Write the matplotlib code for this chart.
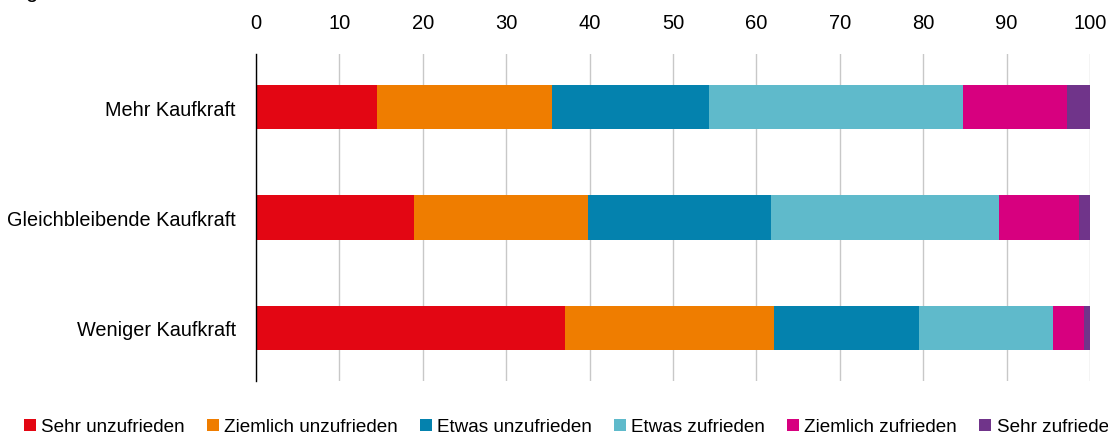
import matplotlib
matplotlib.use("Agg")
import matplotlib.pyplot as plt
import numpy as np

plt.rcParams['font.family'] = ['Liberation Sans', 'DejaVu Sans']

categories = ["Mehr Kaufkraft", "Gleichbleibende Kaufkraft", "Weniger Kaufkraft"]
series_names = ["Sehr unzufrieden", "Ziemlich unzufrieden", "Etwas unzufrieden",
                "Etwas zufrieden", "Ziemlich zufrieden", "Sehr zufrieden"]
# shares in percent, per category
sehr_unzufrieden = [14.5, 18.9, 37.1]
ziemlich_unzufrieden = [21.0, 20.9, 25.0]
etwas_unzufrieden = [18.8, 21.9, 17.4]
etwas_zufrieden = [30.5, 27.4, 16.1]
ziemlich_zufrieden = [12.5, 9.6, 3.7]
sehr_zufrieden = [2.7, 1.3, 0.7]
colors = ["#E30613", "#EF7D00", "#0482AE", "#5FBACB", "#D7007F", "#70348A"]

series = [sehr_unzufrieden, ziemlich_unzufrieden, etwas_unzufrieden,
          etwas_zufrieden, ziemlich_zufrieden, sehr_zufrieden]

fig = plt.figure(figsize=(11.08, 4.35), dpi=100)
ax = fig.add_axes([256/1108, 1-382/435, 834/1108, 327/435])

y = np.arange(len(categories))
left = np.zeros(len(categories))
for name, vals, c in zip(series_names, series, colors):
    ax.barh(y, vals, left=left, height=0.4, color=c, label=name, zorder=3)
    left += np.array(vals)

ax.set_xlim(0, 100)
ax.set_ylim(2.48, -0.48)
ax.set_xticks(range(0, 101, 10))
ax.set_yticks(y)
ax.set_yticklabels(categories, fontsize=14.3)
ax.xaxis.tick_top()
ax.tick_params(axis='x', length=0, labelsize=14.5, pad=16)
ax.tick_params(axis='y', length=0, pad=14.5)
ax.grid(axis='x', color='#c8c8c8', linewidth=1, zorder=0)
for s in ['top', 'right', 'bottom']:
    ax.spines[s].set_visible(False)
ax.spines['left'].set_color('black')
ax.spines['left'].set_linewidth(1)
ax.spines['left'].set_zorder(4)

# cut-off title remnant at the top
fig.text(25/1108, 1 + 3/435, "g", fontsize=16, va='baseline')

fig.legend(loc='center left', bbox_to_anchor=(24/1108, 1-428/435),
           ncol=6, frameon=False, fontsize=13.6, handlelength=0.64,
           handleheight=0.64, handletextpad=0.27, columnspacing=1.17,
           borderpad=0, borderaxespad=0)

fig.savefig("out.png", dpi=100)
